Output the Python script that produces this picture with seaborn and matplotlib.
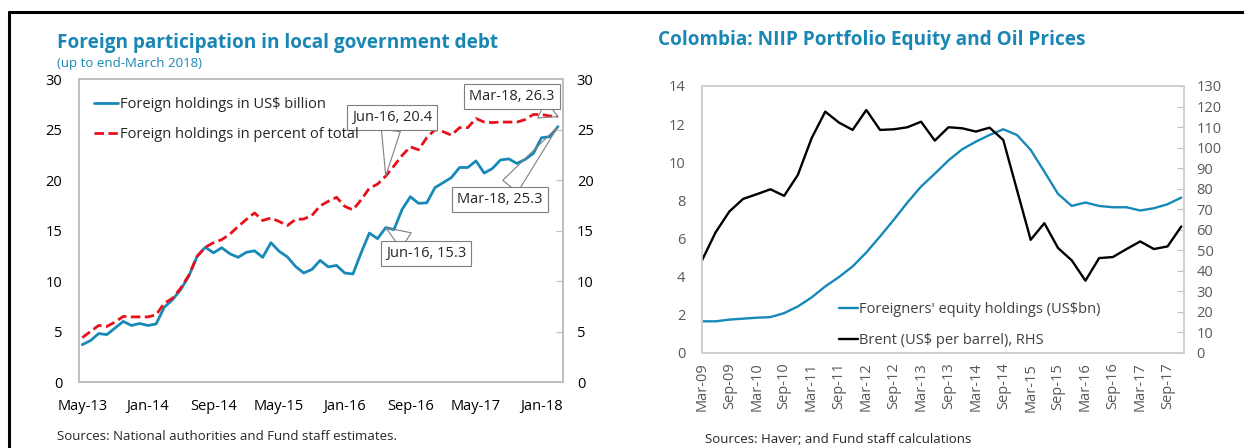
import matplotlib
matplotlib.use("Agg")
import matplotlib.pyplot as plt
import matplotlib.lines as mlines
import numpy as np
import pandas as pd
import seaborn as sns

# ---- left chart data: monthly, May-13 .. Mar-18 ----
usd_bn = [3.7, 4.1, 4.8, 4.7, 5.35, 6.0, 5.6, 5.8, 5.6, 5.75,
          7.4, 8.15, 9.15, 10.5, 12.45, 13.35, 12.8, 13.3, 12.7, 12.35,
          12.85, 13.0, 12.35, 13.8, 12.95, 12.4, 11.45, 10.8, 11.15, 12.05,
          11.4, 11.55, 10.8, 10.7, 12.8, 14.75, 14.2, 15.3, 15.1, 17.1,
          18.35, 17.7, 17.75, 19.25, 19.75, 20.25, 21.25, 21.25, 21.9, 20.7,
          21.15, 22.0, 22.1, 21.65, 22.05, 22.65, 24.2, 24.3, 25.3]
pct_total = [4.4, 5.0, 5.6, 5.5, 5.95, 6.5, 6.45, 6.45, 6.45, 6.65,
             7.8, 8.3, 9.3, 10.6, 12.45, 13.35, 13.8, 14.1, 14.65, 15.4,
             16.1, 16.75, 16.0, 16.25, 15.9, 15.5, 16.1, 16.15, 16.5, 17.45,
             17.9, 18.3, 17.4, 17.05, 18.05, 19.2, 19.6, 20.4, 21.4, 22.45,
             23.3, 23.0, 24.2, 25.0, 24.8, 24.45, 25.2, 25.2, 26.1, 25.75,
             25.7, 25.75, 25.75, 25.75, 26.0, 26.5, 26.5, 26.35, 26.3]
left_ticks = [0, 8, 16, 24, 32, 40, 48, 56]
left_labels = ["May-13", "Jan-14", "Sep-14", "May-15", "Jan-16",
               "Sep-16", "May-17", "Jan-18"]

# ---- right chart data: quarterly, Mar-09 .. Dec-17 ----
equity_bn = [1.66, 1.66, 1.75, 1.8, 1.85, 1.88, 2.09, 2.44, 2.91, 3.49,
             3.98, 4.54, 5.27, 6.11, 6.98, 7.89, 8.73, 9.4, 10.1, 10.68,
             11.08, 11.43, 11.73, 11.43, 10.65, 9.51, 8.34, 7.71, 7.89, 7.71,
             7.64, 7.64, 7.47, 7.59, 7.8, 8.15]
brent = [45.1, 58.8, 68.9, 75.0, 77.3, 79.7, 76.5, 86.7, 104.5, 117.5,
         112.2, 108.6, 118.3, 108.6, 108.9, 109.9, 112.6, 103.4, 109.9, 109.4,
         107.8, 109.7, 103.7, 79.4, 55.1, 63.2, 51.1, 45.1, 35.2, 46.2,
         46.7, 50.6, 54.3, 50.6, 51.9, 61.6]
right_labels = ["Mar-09", "Sep-09", "Mar-10", "Sep-10", "Mar-11", "Sep-11",
                "Mar-12", "Sep-12", "Mar-13", "Sep-13", "Mar-14", "Sep-14",
                "Mar-15", "Sep-15", "Mar-16", "Sep-16", "Mar-17", "Sep-17"]

BLUE = "#1689b8"
RED = "#e8101a"
TITLE = "#1a86b4"
GREY = "#bfbfbf"
TXT2 = "#595959"

sns.set_style("white")
plt.rcParams["font.family"] = ["Open Sans", "DejaVu Sans"]

fig = plt.figure(figsize=(12.44, 4.48), dpi=100)

# figure frame (top and left black rules)
fig.add_artist(mlines.Line2D([0.0075, 1.0], [0.973, 0.973], color="black", lw=2.2))
fig.add_artist(mlines.Line2D([0.0075, 0.0075], [0.0, 0.973], color="black", lw=2.2))

# ================= left chart =================
df_l = pd.DataFrame({"m": np.arange(len(usd_bn)), "usd": usd_bn, "pct": pct_total})
ax = fig.add_axes([0.0635, 0.1473, 0.389, 0.676])
sns.lineplot(data=df_l, x="m", y="usd", ax=ax, color=BLUE, lw=2.0)
sns.lineplot(data=df_l, x="m", y="pct", ax=ax, color=RED, lw=2.0,
             linestyle=(0, (3.4, 1.6)))
ax.set_xlim(-0.4, 58.6)
ax.set_ylim(0, 30)
ax.set_yticks(range(0, 31, 5))
ax.set_xticks(left_ticks)
ax.set_xticklabels(left_labels)
ax.set_xlabel("")
ax.set_ylabel("")
for s in ax.spines.values():
    s.set_color(GREY)
    s.set_linewidth(1.2)
ax.tick_params(axis="x", direction="in", length=4, color=GREY, labelsize=10.5,
               pad=12, labelcolor="black")
ax.tick_params(axis="y", length=0, labelsize=10.5, pad=12, labelcolor="black")
ax2 = ax.twinx()
ax2.set_ylim(0, 30)
ax2.set_yticks(range(0, 31, 5))
ax2.tick_params(axis="y", direction="in", length=5, color=GREY, labelsize=10.5,
                pad=10, labelcolor="black")
for s in ax2.spines.values():
    s.set_color(GREY)
    s.set_linewidth(1.2)

h1 = mlines.Line2D([], [], color=BLUE, lw=2.0)
h2 = mlines.Line2D([], [], color=RED, lw=2.0, linestyle=(0, (3.4, 1.6)))
ax.legend([h1, h2], ["Foreign holdings in US$ billion",
                     "Foreign holdings in percent of total"],
          loc="upper left", bbox_to_anchor=(0.03, 0.94), frameon=False,
          borderaxespad=0, borderpad=0, handlelength=1.7, handletextpad=0.1,
          labelspacing=1.0, fontsize=10.5)

box = dict(boxstyle="square,pad=0.35", fc="white", ec="#7f7f7f", lw=0.8)
wedge = dict(arrowstyle="wedge,tail_width=1.3,shrink_factor=0.5", fc="none",
             ec="#7f7f7f", lw=0.8, shrinkA=0, shrinkB=0)
notes = [(37, pct_total[37], 37.8, 26.2), (58, pct_total[58], 52.4, 28.3),
         (58, usd_bn[58], 50.9, 18.1), (37, usd_bn[37], 41.9, 12.7)]
for mi, val, tx, ty in notes:
    name = "Jun-16" if mi == 37 else "Mar-18"
    ax.annotate(f"{name}, {val:.1f}", xy=(mi, val), xytext=(tx, ty),
                ha="center", va="center", fontsize=10.5, bbox=box,
                arrowprops=wedge, zorder=5)

fig.text(0.0458, 0.905, "Foreign participation in local government debt",
         color=TITLE, fontsize=13.7, fontweight="bold", va="center")
fig.text(0.0458, 0.859, "(up to end-March 2018)", color=TITLE, fontsize=9.5,
         va="center")
fig.text(0.0458, 0.025, "Sources: National authorities and Fund staff estimates.",
         fontsize=9.5, va="center")

# ================= right chart =================
df_r = pd.DataFrame({"m": np.arange(len(equity_bn)) * 3, "eq": equity_bn,
                     "brent": brent})
ax3 = fig.add_axes([0.5643, 0.2121, 0.3875, 0.596])
sns.lineplot(data=df_r, x="m", y="eq", ax=ax3, color=BLUE, lw=1.7)
ax3.set_xlim(0, 105.6)
ax3.set_ylim(0, 14)
ax3.set_yticks(range(0, 15, 2))
ax3.set_xticks(range(0, 103, 6))
ax3.set_xticklabels(right_labels, rotation=90)
ax3.set_xlabel("")
ax3.set_ylabel("")
ax3.tick_params(axis="x", direction="out", length=4, color=GREY, labelsize=10.5,
                labelcolor=TXT2, pad=3)
ax3.tick_params(axis="y", length=0, labelsize=10.5, labelcolor=TXT2, pad=12)
ax4 = ax3.twinx()
sns.lineplot(data=df_r, x="m", y="brent", ax=ax4, color="black", lw=1.7)
ax4.set_ylim(0, 130)
ax4.set_yticks(range(0, 131, 10))
ax4.set_ylabel("")
ax4.tick_params(axis="y", direction="in", length=5, color=GREY, labelsize=10.5,
                labelcolor=TXT2, pad=9)
for a in (ax3, ax4):
    for s in a.spines.values():
        s.set_color("#d0d0d0")
        s.set_linewidth(1.2)

h3 = mlines.Line2D([], [], color=BLUE, lw=1.7)
h4 = mlines.Line2D([], [], color="black", lw=1.7)
leg = ax3.legend([h3, h4], ["Foreigners' equity holdings (US$bn)",
                            "Brent (US$ per barrel), RHS"],
                 loc="upper left", bbox_to_anchor=(0.285, 0.19), frameon=False,
                 borderaxespad=0, borderpad=0, handlelength=1.3,
                 handletextpad=0.05, labelspacing=1.1, fontsize=10.5)
for t in leg.get_texts():
    t.set_color("#404040")

fig.text(0.529, 0.91, "Colombia: NIIP Portfolio Equity and Oil Prices",
         color=TITLE, fontsize=13.7, fontweight="bold", va="center")
fig.text(0.567, 0.018, "Sources: Haver; and Fund staff calculations",
         fontsize=9.5, va="center")

fig.savefig("out.png", dpi=100)
